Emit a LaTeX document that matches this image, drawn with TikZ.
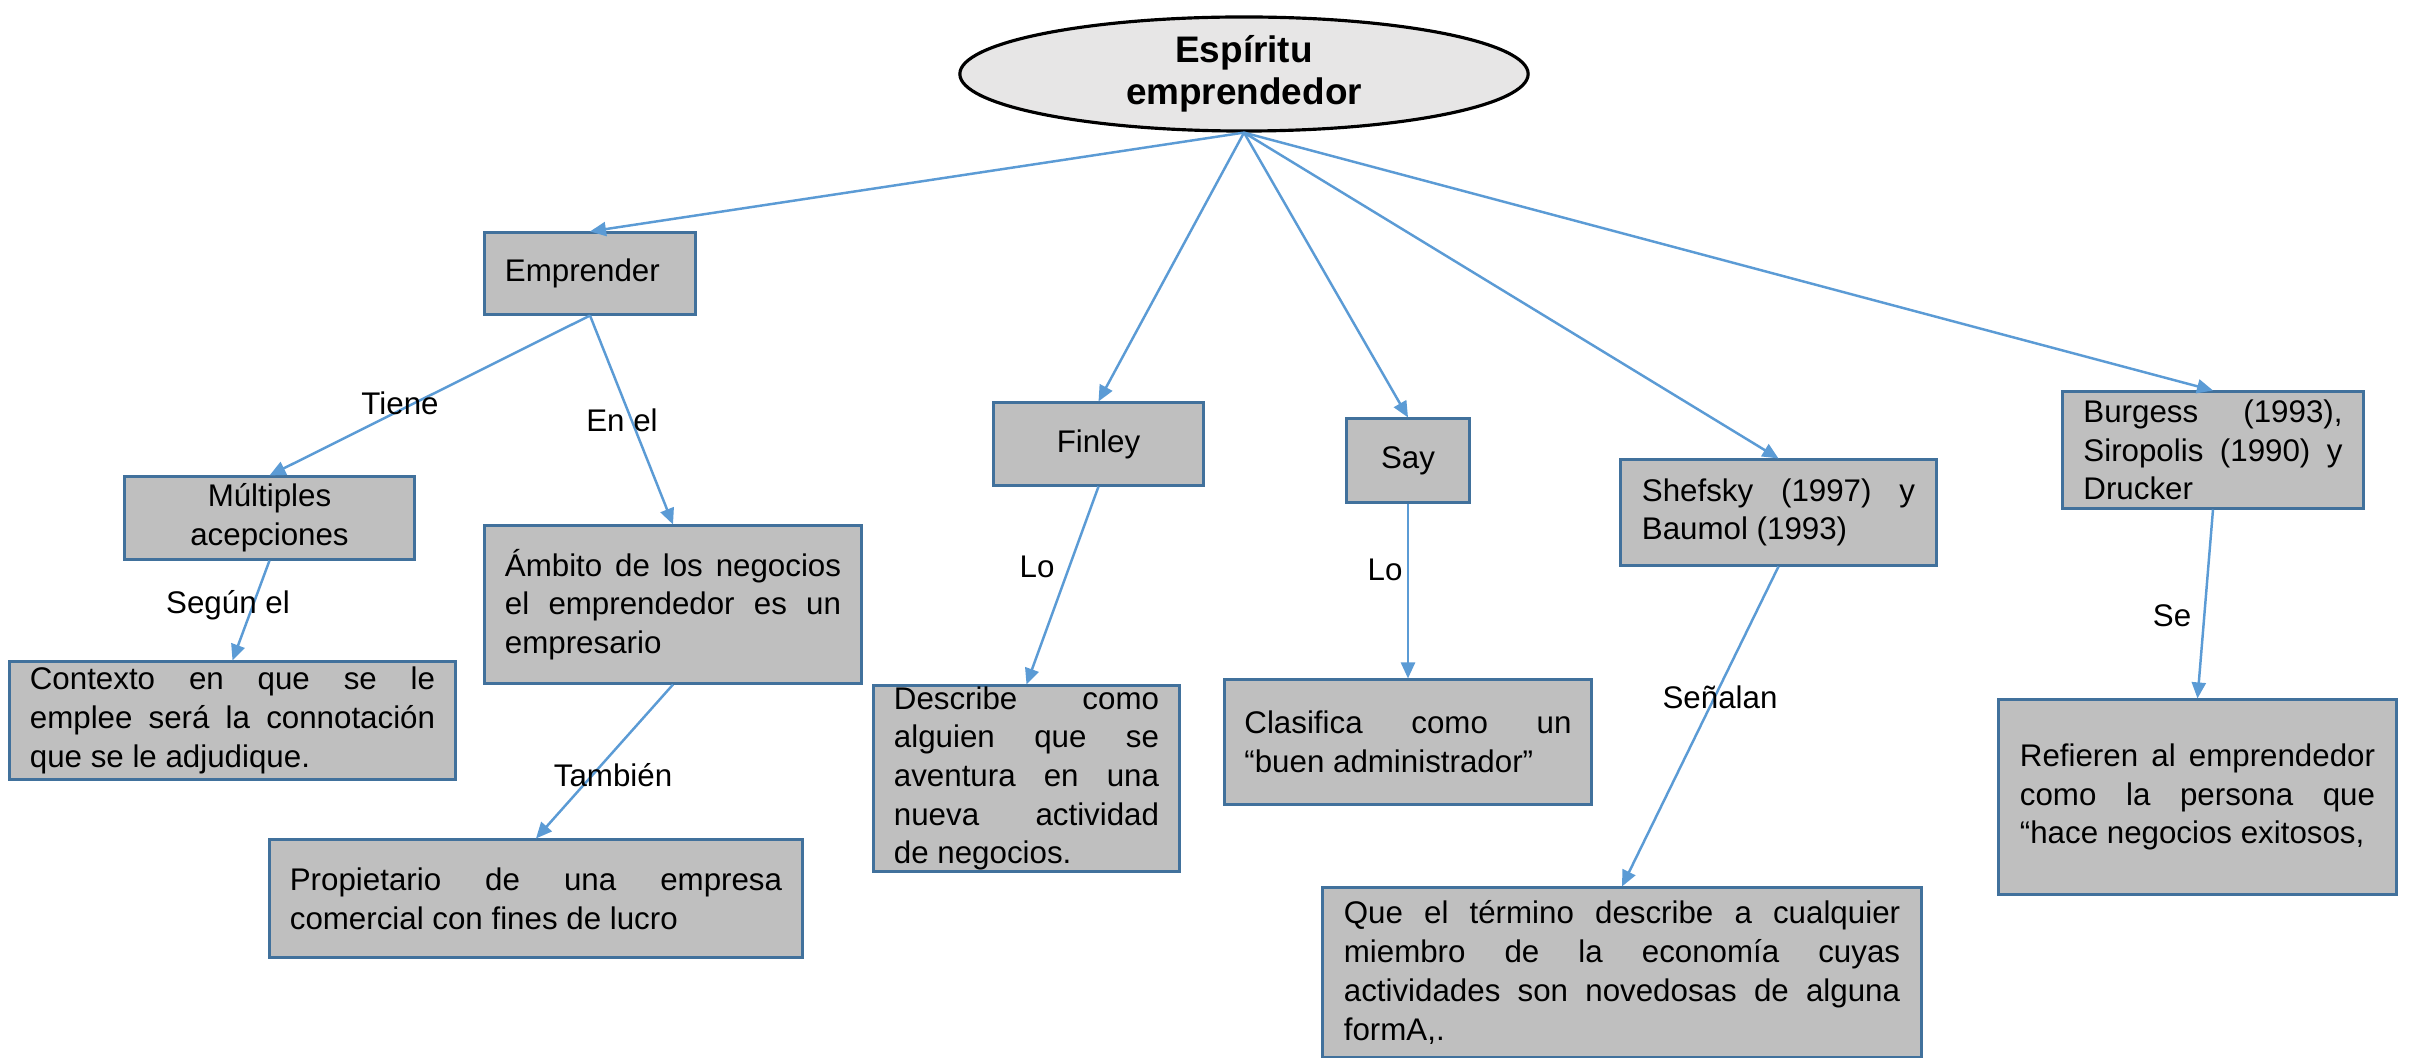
\documentclass[tikz,border=0pt]{standalone}
\usepackage{fontspec}
\setmainfont{Liberation Sans}
\usetikzlibrary{arrows.meta,shapes.geometric}
\definecolor{boxfill}{HTML}{BFBFBF}
\definecolor{boxline}{HTML}{41719C}
\definecolor{arrowc}{HTML}{5B9BD5}
\definecolor{ellfill}{HTML}{E7E6E6}
\begin{document}
\begin{tikzpicture}[x=0.01cm,y=-0.01cm,
  txt/.style={font=\fontsize{8.9}{11}\selectfont},
  cbox/.style={draw=boxline, fill=boxfill, line width=0.85pt, inner sep=0pt, txt},
  jbox/.style={cbox, align=justify},
  arr/.style={draw=arrowc, line width=0.7pt, -{Triangle[length=0.16cm,width=0.14cm]}},
  lbl/.style={txt, inner sep=0pt}]
\useasboundingbox (0,0) rectangle (2417,1058);
\fill[white] (0,0) rectangle (2417,1058);

% title
\node[ellipse, draw=black, fill=ellfill, line width=0.9pt, minimum width=5.68cm,
  minimum height=1.14cm, inner sep=0pt, align=center,
  font=\bfseries\fontsize{10.5}{11.95}\selectfont] (esp) at (1244,74) {Espíritu\\emprendedor};

% boxes
\node[cbox, minimum width=2.10cm, minimum height=0.81cm, text width=1.70cm, align=left] (emp) at (590,273.5) {Emprender};
\node[cbox, minimum width=2.89cm, minimum height=0.82cm, align=center] (mult) at (269.5,518) {Múltiples\\acepciones};
\node[jbox, minimum width=3.76cm, minimum height=1.57cm, text width=3.36cm] (amb) at (673,604.5)
  {Ámbito de los negocios\linebreak el emprendedor es un\linebreak empresario};
\node[jbox, minimum width=4.45cm, minimum height=1.17cm, text width=4.05cm] (cont) at (232.5,720.5)
  {Contexto en que se le\linebreak emplee será la connotación\linebreak que se le adjudique.};
\node[jbox, minimum width=5.32cm, minimum height=1.17cm, text width=4.92cm] (prop) at (536,898.5)
  {Propietario de una empresa\linebreak comercial con fines de lucro};
\node[cbox, minimum width=2.09cm, minimum height=0.82cm, align=center] (fin) at (1098.5,444) {Finley};
\node[cbox, minimum width=1.22cm, minimum height=0.83cm, align=center] (say) at (1408,460.5) {Say};
\node[jbox, minimum width=3.05cm, minimum height=1.85cm, text width=2.65cm] (desc) at (1026.5,778.5)
  {Describe como\linebreak alguien que se\linebreak aventura en una\linebreak nueva actividad\linebreak de negocios.};
\node[jbox, minimum width=3.66cm, minimum height=1.24cm, text width=3.27cm] (clas) at (1408,742)
  {Clasifica como un\linebreak “buen administrador”};
\node[jbox, minimum width=3.15cm, minimum height=1.05cm, text width=2.73cm] (shef) at (1778.5,512.5)
  {Shefsky (1997) y\linebreak Baumol (1993)};
\node[jbox, minimum width=3.00cm, minimum height=1.16cm, text width=2.59cm] (burg) at (2213,450)
  {Burgess (1993),\linebreak Siropolis (1990) y\linebreak Drucker};
\node[jbox, minimum width=3.97cm, minimum height=1.94cm, text width=3.55cm] (ref) at (2197.5,797)
  {Refieren al emprendedor\linebreak como la persona que\linebreak “hace negocios exitosos,};
\node[jbox, minimum width=5.98cm, minimum height=1.69cm, text width=5.56cm] (que) at (1622,972.5)
  {Que el término describe a cualquier\linebreak miembro de la economía cuyas\linebreak actividades son novedosas de alguna\linebreak formA,.};

% connectors
\draw[arr] (esp.south) -- (emp.north);
\draw[arr] (esp.south) -- (fin.north);
\draw[arr] (esp.south) -- (say.north);
\draw[arr] (esp.south) -- (shef.north);
\draw[arr] (esp.south) -- (burg.north);
\draw[arr] (emp.south) -- (mult.north);
\draw[arr] (emp.south) -- (amb.north);
\draw[arr] (mult.south) -- (cont.north);
\draw[arr] (amb.south) -- (prop.north);
\draw[arr] (fin.south) -- (desc.north);
\draw[arr] (say.south) -- (clas.north);
\draw[arr] (shef.south) -- (que.north);
\draw[arr] (burg.south) -- (ref.north);

% labels
\node[lbl] (l1) at (400,403) {Tiene};
\node[lbl] (l2) at (622,420) {En el};
\node[lbl] (l3) at (228,605) {Según el};
\node[lbl] (l4) at (613,775) {También};
\node[lbl] (l5) at (1037,567) {Lo};
\node[lbl] (l6) at (1385,570) {Lo};
\node[lbl] (l7) at (1720,697) {Señalan};
\node[lbl] (l8) at (2172,616) {Se};
\end{tikzpicture}
\end{document}
